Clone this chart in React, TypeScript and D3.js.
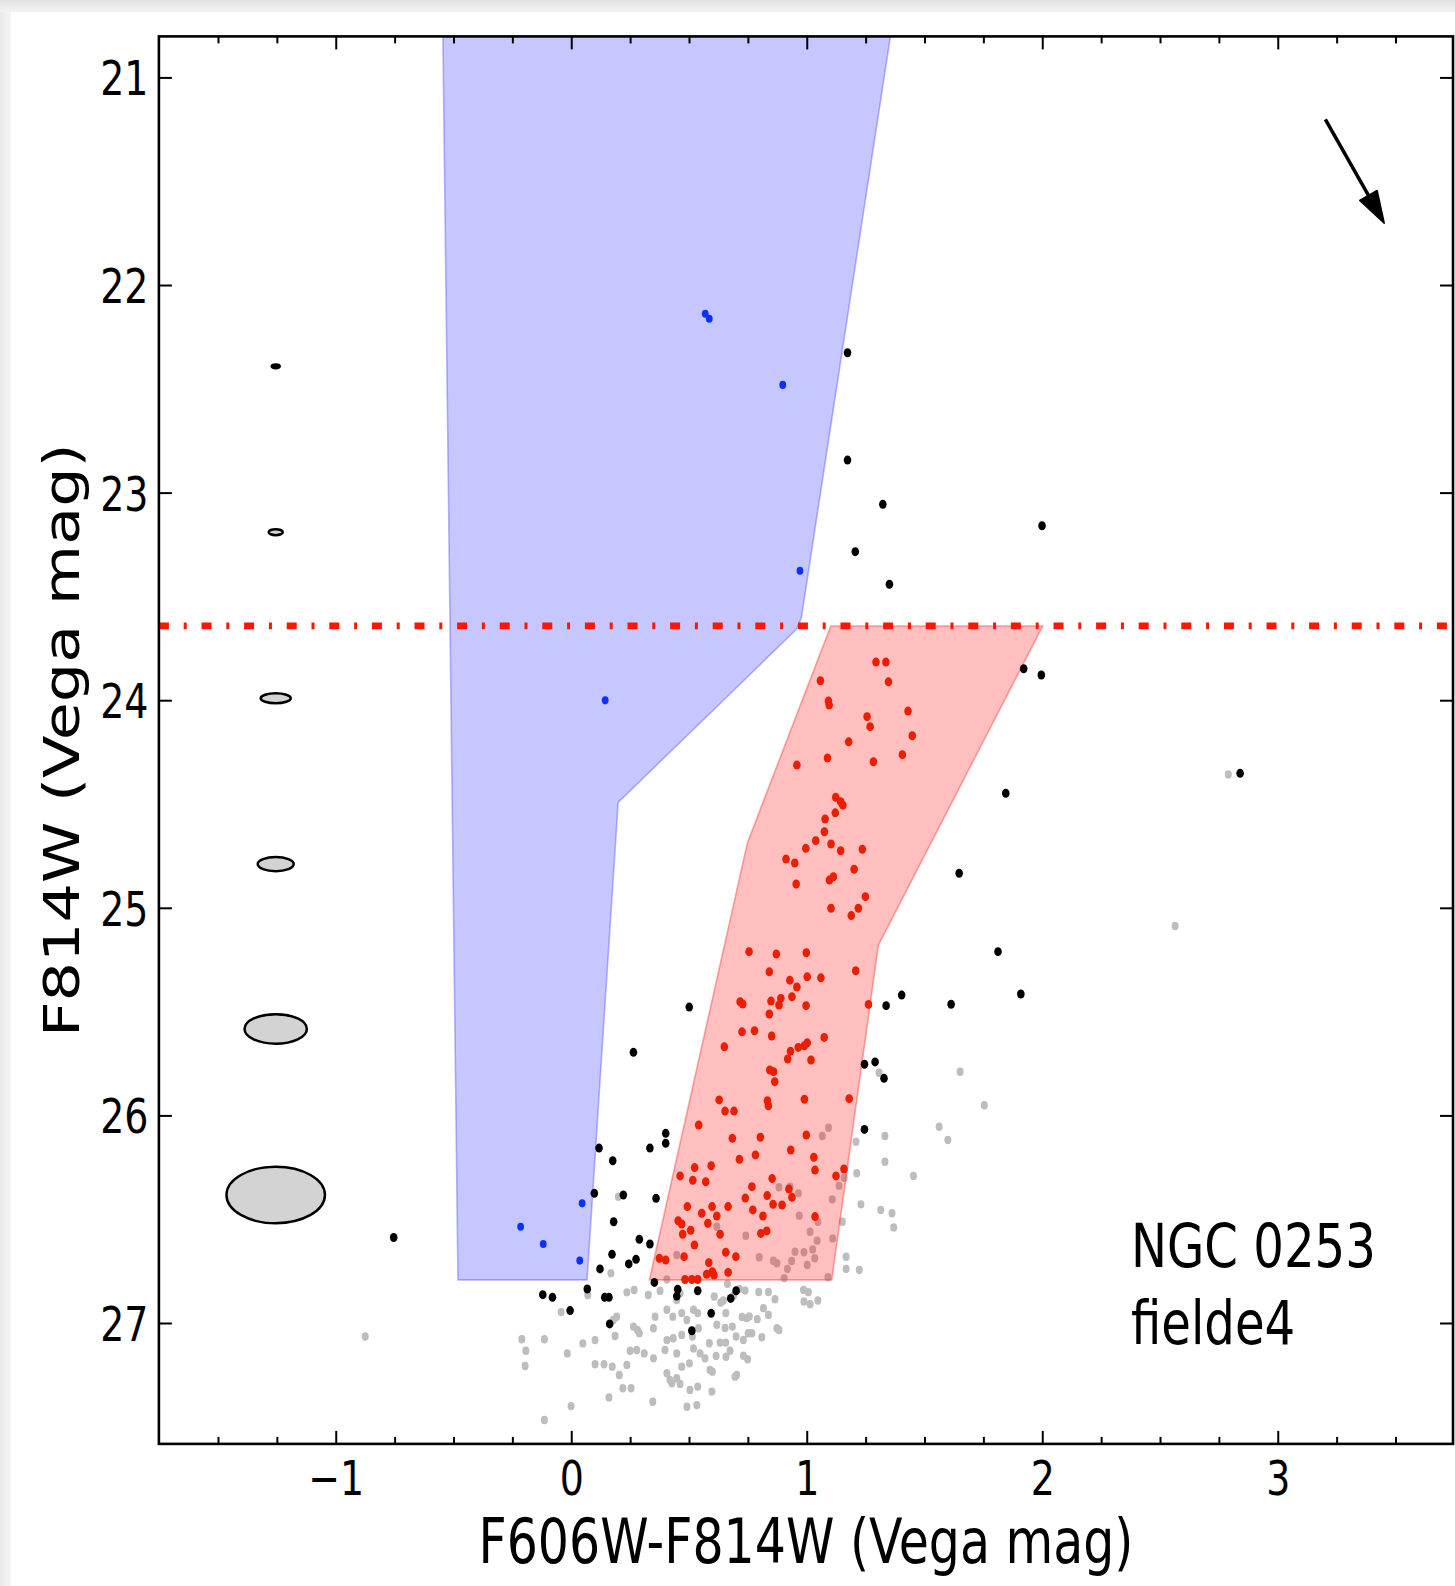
import React from 'react';
import * as d3 from 'd3';

const W = 1455;
const H = 1586;

// axis limits / ticks
const xLimits: [number, number] = [-1.753, 3.742];
const yLimits: [number, number] = [20.8, 27.58];
const xMajorTicks = [-1, 0, 1, 2, 3];
const xTickLabels = ['\u22121', '0', '1', '2', '3'];
const yMajorTicks = [21, 22, 23, 24, 25, 26, 27];
const yTickLabels = ['21', '22', '23', '24', '25', '26', '27'];
const xMinorStep = 0.25;

const xLabel = 'F606W-F814W (Vega mag)';
const yLabel = 'F814W (Vega mag)';
const galaxyName = 'NGC 0253';
const fieldName = 'fielde4';

const trgbMag = 23.64;

// selection polygons [colour, mag]
const bluePoly: [number, number][] = [
  [-0.547, 20.8], [-0.483, 26.79], [0.065, 26.79], [0.197, 24.49],
  [0.955, 23.655], [0.975, 23.6], [1.353, 20.8],
];
const redPoly: [number, number][] = [
  [1.1, 23.64], [2.0, 23.64], [1.302, 25.177], [1.104, 26.79],
  [0.33, 26.79], [0.746, 24.685],
];

// error ellipses: centre colour, mags, semi-axes
const errX = -1.257;
const errMag = [22.389, 23.188, 23.988, 24.787, 25.581, 26.381];
const errColErr = [0.017, 0.03, 0.0637, 0.0764, 0.1323, 0.2091];
const errMagErr = [0.009, 0.0145, 0.024, 0.034, 0.071, 0.136];

// reddening vector
const arrowFrom: [number, number] = [3.2, 21.2];
const arrowTo: [number, number] = [3.45, 21.7];

const bluePts: [number, number][] = [
  [0.567, 22.136], [0.584, 22.16], [0.896, 22.479], [0.969, 23.374], [0.142, 23.998],
  [0.044, 26.421], [-0.217, 26.534], [-0.121, 26.617], [0.034, 26.697],
];

const blackPts: [number, number][] = [
  [1.171, 22.324], [1.171, 22.841], [1.321, 23.054], [1.997, 23.157], [1.204, 23.282],
  [1.349, 23.439], [1.919, 23.846], [1.994, 23.876], [2.838, 24.35], [1.843, 24.446],
  [1.645, 24.831], [1.81, 25.209], [1.401, 25.418], [1.335, 25.469], [1.611, 25.462],
  [1.907, 25.413], [1.243, 25.751], [1.288, 25.74], [1.326, 25.819], [0.499, 25.476],
  [0.262, 25.694], [-0.756, 26.586], [1.243, 26.065], [0.399, 26.084], [0.399, 26.132],
  [0.116, 26.155], [0.332, 26.155], [0.174, 26.216], [0.096, 26.373], [0.219, 26.381],
  [0.358, 26.397], [0.178, 26.51], [0.287, 26.594], [0.332, 26.617], [0.171, 26.667],
  [0.273, 26.691], [0.242, 26.713], [0.12, 26.737], [0.351, 26.802], [0.066, 26.834],
  [-0.123, 26.861], [-0.082, 26.874], [0.14, 26.874], [0.158, 26.874], [-0.007, 26.938],
  [0.161, 27.002], [0.45, 26.835], [0.446, 26.868], [0.51, 27.035], [0.535, 26.842],
  [0.698, 26.842], [0.675, 26.879], [0.592, 26.951],
];

const redPts: [number, number][] = [
  [1.292, 23.814], [1.334, 23.814], [1.056, 23.904], [1.345, 23.909], [1.09, 24.002],
  [1.093, 24.021], [1.254, 24.077], [1.267, 24.125], [1.428, 24.05], [1.446, 24.169],
  [1.176, 24.198], [1.086, 24.276], [0.956, 24.31], [1.281, 24.294], [1.404, 24.26],
  [1.121, 24.465], [1.142, 24.487], [1.151, 24.503], [1.119, 24.54], [1.076, 24.57],
  [1.073, 24.631], [1.036, 24.674], [1.101, 24.69], [0.994, 24.711], [1.142, 24.723],
  [1.234, 24.716], [0.91, 24.763], [0.947, 24.782], [1.199, 24.812], [0.953, 24.883],
  [1.094, 24.864], [1.111, 24.848], [1.247, 24.944], [1.217, 25.0], [1.187, 25.035],
  [1.206, 25.301], [1.26, 25.463], [1.178, 25.917], [1.101, 25.0], [0.753, 25.209],
  [0.869, 25.22], [0.996, 25.214], [0.839, 25.306], [0.926, 25.346], [1.0, 25.33],
  [1.058, 25.335], [0.956, 25.379], [0.935, 25.426], [0.715, 25.45], [0.726, 25.461],
  [0.846, 25.447], [0.888, 25.434], [0.88, 25.466], [0.995, 25.469], [0.839, 25.509],
  [0.723, 25.595], [0.776, 25.59], [0.849, 25.615], [1.072, 25.622], [0.648, 25.667],
  [0.962, 25.67], [0.988, 25.662], [1.0, 25.648], [0.929, 25.689], [0.917, 25.726],
  [1.016, 25.731], [0.841, 25.779], [0.857, 25.787], [0.862, 25.835], [0.626, 25.923],
  [0.831, 25.927], [0.835, 25.951], [0.988, 25.92], [0.651, 25.977], [0.689, 25.977],
  [0.539, 26.044], [0.682, 26.108], [0.801, 26.103], [0.996, 26.092], [0.712, 26.209],
  [0.78, 26.188], [0.93, 26.164], [1.028, 26.199], [0.522, 26.249], [0.592, 26.24],
  [1.033, 26.261], [1.156, 26.256], [1.122, 26.289], [0.46, 26.289], [0.514, 26.31],
  [0.569, 26.317], [0.851, 26.302], [0.765, 26.341], [0.737, 26.396], [0.83, 26.384],
  [0.855, 26.426], [0.893, 26.429], [0.922, 26.352], [0.935, 26.392], [0.491, 26.437],
  [0.596, 26.437], [0.664, 26.437], [0.769, 26.453], [0.812, 26.482], [1.033, 26.485],
  [0.552, 26.469], [0.616, 26.482], [0.578, 26.517], [0.467, 26.521], [0.452, 26.505],
  [0.471, 26.57], [0.505, 26.551], [0.63, 26.57], [0.803, 26.566], [0.828, 26.554],
  [0.521, 26.622], [0.477, 26.678], [0.654, 26.657], [0.697, 26.678], [0.582, 26.707],
  [0.597, 26.751], [0.573, 26.763], [0.604, 26.767], [0.664, 26.754], [0.481, 26.788],
  [0.51, 26.788], [0.535, 26.788], [0.372, 26.686], [0.399, 26.694],
];

const grayPts: [number, number][] = [
  [0.404, 26.788], [0.446, 26.67], [0.068, 26.863], [-0.045, 26.945], [0.234, 26.85],
  [0.265, 26.839], [0.325, 26.863], [0.375, 26.843], [0.446, 26.887], [0.46, 26.854],
  [0.354, 26.967], [0.404, 26.934], [0.429, 26.967], [0.467, 26.95], [0.489, 26.983],
  [0.517, 26.934], [0.535, 26.95], [0.538, 27.023], [0.512, 27.063], [0.467, 27.055],
  [0.431, 27.071], [0.404, 27.08], [0.191, 26.967], [0.177, 26.983], [0.184, 27.06],
  [0.262, 27.015], [0.279, 27.031], [0.347, 27.023], [0.287, 27.047], [0.248, 27.131],
  [0.276, 27.128], [0.308, 27.144], [0.347, 27.168], [0.396, 27.128], [0.446, 27.144],
  [0.517, 27.12], [0.5, 27.192], [0.467, 27.208], [0.446, 27.264], [0.417, 27.272],
  [0.404, 27.24], [0.425, 27.288], [0.46, 27.291], [0.502, 27.32], [0.535, 27.304],
  [-0.212, 27.076], [-0.116, 27.076], [-0.195, 27.131], [-0.198, 27.205], [-0.019, 27.144],
  [0.047, 27.096], [0.099, 27.08], [0.099, 27.196], [0.137, 27.196], [0.172, 27.208],
  [0.202, 27.248], [0.234, 27.2], [0.217, 27.312], [0.252, 27.312], [0.158, 27.356],
  [-0.003, 27.398], [0.344, 27.377], [0.489, 27.401], [0.531, 27.393], [-0.116, 27.465],
  [0.198, 26.389], [0.166, 26.758], [-0.877, 27.063], [2.788, 24.355], [2.562, 25.085],
  [1.305, 25.792], [1.649, 25.787], [1.752, 25.949],
  [1.09, 26.057], [1.064, 26.097], [1.207, 26.124], [1.33, 26.097], [1.56, 26.052],
  [1.597, 26.116], [1.33, 26.221], [1.451, 26.289], [1.21, 26.276], [1.157, 26.298],
  [1.135, 26.337], [0.88, 26.344], [0.927, 26.341], [0.962, 26.373], [1.106, 26.402],
  [1.228, 26.426], [1.312, 26.453], [1.36, 26.469], [1.367, 26.537], [1.149, 26.51],
  [1.045, 26.51], [0.966, 26.481], [1.012, 26.558], [1.042, 26.601], [1.108, 26.59],
  [0.616, 26.534], [0.739, 26.577], [0.796, 26.681], [0.856, 26.698], [0.871, 26.71],
  [0.916, 26.737], [0.934, 26.699], [0.948, 26.654], [0.986, 26.657], [1.023, 26.643],
  [1.032, 26.686], [1.0, 26.718], [1.165, 26.678], [1.165, 26.737], [1.221, 26.742],
  [0.902, 26.782], [1.088, 26.777], [0.984, 26.838], [1.005, 26.849], [0.986, 26.894],
  [1.012, 26.907], [1.045, 26.889], [0.794, 26.848], [0.835, 26.848], [0.863, 26.883],
  [0.814, 26.926], [0.835, 26.959], [0.661, 26.809], [0.605, 26.87], [0.644, 26.889],
  [0.633, 26.899], [0.687, 26.866], [0.712, 26.834], [0.736, 26.841], [0.654, 26.95],
  [0.616, 27.006], [0.651, 27.022], [0.682, 27.015], [0.723, 26.969], [0.743, 26.974],
  [0.754, 26.966], [0.788, 26.979], [0.749, 27.047], [0.765, 27.047], [0.807, 27.066],
  [0.698, 27.063], [0.729, 27.079], [0.871, 27.023], [0.88, 27.031], [0.63, 27.092],
  [0.654, 27.092], [0.584, 27.095], [0.672, 27.131], [0.655, 27.16], [0.613, 27.156],
  [0.729, 27.155], [0.747, 27.172], [0.545, 27.144], [0.566, 27.168], [0.587, 27.224],
  [0.597, 27.232], [0.693, 27.256], [0.7, 27.248], [0.595, 27.328],
];

const SX = 0.79; // horizontal squeeze of the original picture
const FONT = '"DejaVu Sans", Verdana, sans-serif';

export default function App() {
  const left = 158.9, right = 1453, top = 36.4, bottom = 1443.9;
  const x = d3.scaleLinear().domain(xLimits).range([left, right]);
  const y = d3.scaleLinear().domain(yLimits).range([top, bottom]);

  const line = d3.line<[number, number]>().x(d => x(d[0])).y(d => y(d[1]));
  const polyPath = (p: [number, number][]) => line(p)! + 'Z';

  const minorX = d3.range(Math.ceil(xLimits[0] / xMinorStep) * xMinorStep, xLimits[1], xMinorStep)
    .filter(v => Math.abs(v - Math.round(v)) > 1e-6)
    .filter(v => x(v) - left > 3 && right - x(v) > 3);

  const dotRx = 3.8, dotRy = 4.5;

  // arrow geometry
  const ax0 = x(arrowFrom[0]), ay0 = y(arrowFrom[1]);
  const ax1 = x(arrowTo[0]), ay1 = y(arrowTo[1]);
  const ang = Math.atan2(ay1 - ay0, ax1 - ax0);
  const headL = 32, headW = 10;
  const bx = ax1 - headL * Math.cos(ang), by = ay1 - headL * Math.sin(ang);
  const nx = -Math.sin(ang), ny = Math.cos(ang);
  const head = `M${ax1},${ay1}L${bx + nx * headW},${by + ny * headW}L${bx - nx * headW},${by - ny * headW}Z`;

  const majorLen = 13, minorLen = 7;

  return (
    <svg width={W} height={H} style={{ position: 'absolute', left: 0, top: 0, display: 'block' }}
      xmlns="http://www.w3.org/2000/svg">
      <defs>
        <linearGradient id="gTop" x1="0" y1="0" x2="0" y2="1">
          <stop offset="0" stopColor="#e2e2e2" />
          <stop offset="1" stopColor="#f3f3f3" />
        </linearGradient>
        <linearGradient id="gLeft" x1="0" y1="0" x2="1" y2="0">
          <stop offset="0" stopColor="#e9e9e9" />
          <stop offset="1" stopColor="#f5f5f5" />
        </linearGradient>
        <clipPath id="plotClip">
          <rect x={left} y={top} width={right - left} height={bottom - top} />
        </clipPath>
      </defs>
      <rect x={0} y={0} width={W} height={H} fill="#ffffff" />
      <rect x={0} y={0} width={11} height={H} fill="url(#gLeft)" />
      <rect x={0} y={0} width={W} height={12} fill="url(#gTop)" />

      <g clipPath="url(#plotClip)">
        {grayPts.map((d, i) => (
          <ellipse key={'g' + i} cx={x(d[0])} cy={y(d[1])} rx={3.5} ry={4.2} fill="#bdbdbd" />
        ))}
        <path d={polyPath(bluePoly)} fill="#0000ff" fillOpacity={0.22} stroke="#5a5aff" strokeOpacity={0.45} strokeWidth={1.6} />
        <path d={polyPath(redPoly)} fill="#ff0000" fillOpacity={0.25} stroke="#ff3a3a" strokeOpacity={0.45} strokeWidth={1.6} />
        <line x1={left} x2={right} y1={y(trgbMag)} y2={y(trgbMag)} stroke="#ff1500" strokeWidth={6.8}
          strokeDasharray="10 14.8 3 14.8" />
        {blackPts.map((d, i) => (
          <ellipse key={'k' + i} cx={x(d[0])} cy={y(d[1])} rx={dotRx} ry={dotRy} fill="#000000" />
        ))}
        {redPts.map((d, i) => (
          <ellipse key={'r' + i} cx={x(d[0])} cy={y(d[1])} rx={dotRx} ry={dotRy} fill="#ec1e00" />
        ))}
        {bluePts.map((d, i) => (
          <ellipse key={'b' + i} cx={x(d[0])} cy={y(d[1])} rx={3.4} ry={4.1} fill="#0a32ff" />
        ))}
        {errMag.map((m, i) => (
          <ellipse key={'e' + i} cx={x(errX)} cy={y(m)}
            rx={x(errX + errColErr[i]) - x(errX)} ry={y(m + errMagErr[i]) - y(m)}
            fill={i === 0 ? '#000' : '#d3d3d3'} stroke="#000" strokeWidth={2.5} />
        ))}
        <line x1={ax0} y1={ay0} x2={bx} y2={by} stroke="#000" strokeWidth={3.5} />
        <path d={head} fill="#000" stroke="#000" strokeWidth={1.5} strokeLinejoin="round" />
      </g>

      {/* ticks */}
      <g stroke="#000" strokeWidth={2}>
        {xMajorTicks.map(t => (
          <g key={'xt' + t}>
            <line x1={x(t)} x2={x(t)} y1={bottom} y2={bottom - majorLen} />
            <line x1={x(t)} x2={x(t)} y1={top} y2={top + majorLen} />
          </g>
        ))}
        {minorX.map(t => (
          <g key={'xm' + t}>
            <line x1={x(t)} x2={x(t)} y1={bottom} y2={bottom - minorLen} />
            <line x1={x(t)} x2={x(t)} y1={top} y2={top + minorLen} />
          </g>
        ))}
        {yMajorTicks.map(t => (
          <g key={'yt' + t}>
            <line x1={left} x2={left + majorLen} y1={y(t)} y2={y(t)} />
            <line x1={right} x2={right - majorLen} y1={y(t)} y2={y(t)} />
          </g>
        ))}
      </g>

      <rect x={left} y={top} width={right - left} height={bottom - top} fill="none" stroke="#000" strokeWidth={2.6} />

      <g fontFamily={FONT} fill="#000">
        {xMajorTicks.map((t, i) => (
          <text key={'xl' + t} transform={`translate(${x(t)},${1495}) scale(${SX},1)`} textAnchor="middle" fontSize={48}>
            {xTickLabels[i]}
          </text>
        ))}
        {yMajorTicks.map((t, i) => (
          <text key={'yl' + t} transform={`translate(${148.5},${y(t) + 17.5}) scale(${SX},1)`} textAnchor="end" fontSize={48}>
            {yTickLabels[i]}
          </text>
        ))}
        <text transform={`translate(${(left + right) / 2},1563) scale(${SX},1)`} textAnchor="middle" fontSize={62}>
          {xLabel}
        </text>
        <text transform={`translate(79,${(top + bottom) / 2}) scale(${SX},1) rotate(-90)`} textAnchor="middle" fontSize={62}>
          {yLabel}
        </text>
        <text transform={`translate(1131,1267) scale(${SX},1)`} fontSize={61}>{galaxyName}</text>
        <text transform={`translate(1131,1344) scale(${SX},1)`} fontSize={61}>{fieldName}</text>
      </g>
    </svg>
  );
}
